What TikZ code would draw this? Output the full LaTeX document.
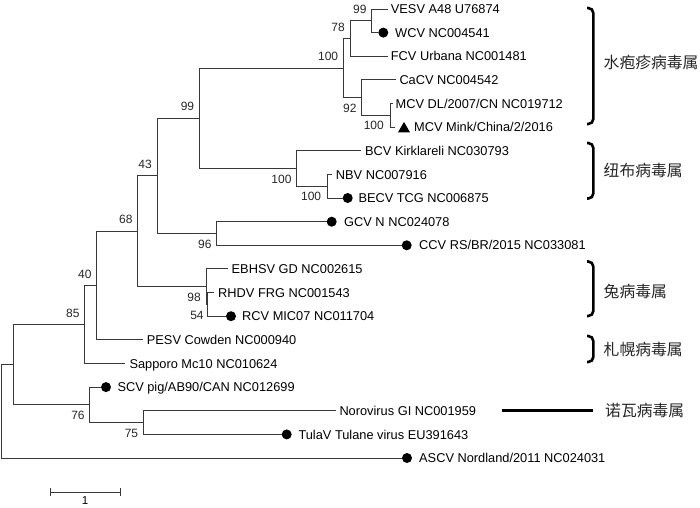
\documentclass[tikz,border=0pt]{standalone}
\usepackage{fontspec}
\setmainfont{Liberation Sans}
\newfontfamily\cjk{Noto Sans CJK SC}
\usetikzlibrary{shapes.geometric}
\begin{document}
\begin{tikzpicture}[x=1pt,y=-1pt,
  edge/.style={draw=black!78, line width=1pt},
  leaf/.style={font=\fontsize{12.8}{14}\selectfont, inner sep=0pt, anchor=base west},
  bs/.style={font=\fontsize{12}{14}\selectfont, inner sep=0pt, anchor=east, text=black!85},
  dot/.style={circle, fill=black, inner sep=0pt, minimum size=10pt},
  tri/.style={regular polygon, regular polygon sides=3, fill=black, inner sep=0pt, minimum size=14pt},
  genus/.style={font=\cjk\fontsize{15.8}{18}\selectfont, inner sep=0pt, anchor=west, text=black!85},
  brace/.style={line width=2.6pt, rounded corners=5pt},
  gbar/.style={line width=2.6pt}
]
\useasboundingbox (0,0) rectangle (700,507);

% internal nodes
\coordinate (root) at (1.5,411.3);
\coordinate (nP) at (13.3,364.65);
\coordinate (n85) at (84.7,324.5);
\coordinate (n76) at (89.3,404.8);
\coordinate (n75) at (143.3,422.55);
\coordinate (n40) at (96.7,285.55);
\coordinate (n68) at (137.7,231.3);
\coordinate (n43) at (157,175.9);
\coordinate (n99b) at (199.3,118.3);
\coordinate (n96) at (216.7,233.5);
\coordinate (n98) at (206,286.65);
\coordinate (n54) at (207.8,304.4);
\coordinate (n100v) at (343.3,68.1);
\coordinate (n78) at (350,38.55);
\coordinate (n99s) at (371.7,20.8);
\coordinate (n92) at (361.7,97.6);
\coordinate (n100m) at (390,115.35);
\coordinate (n100b) at (296.7,168.5);
\coordinate (n100n) at (327.3,186.2);

% leaf tips and markers
\coordinate (tVESV) at (387.5,9);
\node[dot] (dWCV) at (383.3,32.6) {};
\coordinate (tFCV) at (388,56.3);
\coordinate (tCaCV) at (396,79.9);
\coordinate (tMCVDL) at (393,103.5);
\coordinate (tMink) at (395,127.2);
\node[tri] (triMink) at (404,128.9) {};
\coordinate (tBCV) at (361,150.8);
\coordinate (tNBV) at (332,174.4);
\node[dot] (dBECV) at (347.7,198) {};
\node[dot] (dGCV) at (331.7,221.7) {};
\node[dot] (dCCV) at (406.7,245.3) {};
\coordinate (tEBHSV) at (228,268.9);
\coordinate (tRHDV) at (214,292.6);
\node[dot] (dRCV) at (231,316.2) {};
\coordinate (tPESV) at (143.3,339.8);
\coordinate (tSapp) at (125,363.5);
\node[dot] (dSCV) at (106,387.1) {};
\coordinate (tNoro) at (336,410.7);
\node[dot] (dTula) at (286.7,434.4) {};
\node[dot] (dASCV) at (407,458) {};

% leaf labels
\node[leaf] (lVESV) at (390.7,13.6) {VESV A48 U76874};
\node[leaf] (lWCV) at (395,37.2) {WCV NC004541};
\node[leaf] (lFCV) at (390.7,60.9) {FCV Urbana NC001481};
\node[leaf] (lCaCV) at (399.3,84.5) {CaCV NC004542};
\node[leaf] (lMCVDL) at (395.5,108.1) {MCV DL/2007/CN NC019712};
\node[leaf] (lMink) at (414,131.8) {MCV Mink/China/2/2016};
\node[leaf] (lBCV) at (365,155.4) {BCV Kirklareli NC030793};
\node[leaf] (lNBV) at (335.7,179) {NBV NC007916};
\node[leaf] (lBECV) at (358.3,202.6) {BECV TCG NC006875};
\node[leaf] (lGCV) at (344,226.3) {GCV N NC024078};
\node[leaf] (lCCV) at (419,249.9) {CCV RS/BR/2015 NC033081};
\node[leaf] (lEBHSV) at (231.5,273.5) {EBHSV GD NC002615};
\node[leaf] (lRHDV) at (218,297.2) {RHDV FRG NC001543};
\node[leaf] (lRCV) at (242,320.8) {RCV MIC07 NC011704};
\node[leaf] (lPESV) at (146.7,344.4) {PESV Cowden NC000940};
\node[leaf] (lSapp) at (129.3,368.1) {Sapporo Mc10 NC010624};
\node[leaf] (lSCV) at (117.3,391.7) {SCV pig/AB90/CAN NC012699};
\node[leaf] (lNoro) at (339.3,415.3) {Norovirus GI NC001959};
\node[leaf] (lTula) at (298.3,439) {TulaV Tulane virus EU391643};
\node[leaf] (lASCV) at (419,462.6) {ASCV Nordland/2011 NC024031};

% branches
\draw[edge] (root) |- (nP);
\draw[edge] (root) |- (dASCV.west);
\draw[edge] (nP) |- (n85);
\draw[edge] (nP) |- (n76);
\draw[edge] (n85) |- (n40);
\draw[edge] (n85) |- (tSapp);
\draw[edge] (n40) |- (n68);
\draw[edge] (n40) |- (tPESV);
\draw[edge] (n68) |- (n43);
\draw[edge] (n68) |- (n98);
\draw[edge] (n43) |- (n99b);
\draw[edge] (n43) |- (n96);
\draw[edge] (n99b) |- (n100v);
\draw[edge] (n99b) |- (n100b);
\draw[edge] (n100v) |- (n78);
\draw[edge] (n100v) |- (n92);
\draw[edge] (n78) |- (n99s);
\draw[edge] (n78) |- (tFCV);
\draw[edge] (n99s) |- (tVESV);
\draw[edge] (n99s) |- (dWCV.west);
\draw[edge] (n92) |- (tCaCV);
\draw[edge] (n92) |- (n100m);
\draw[edge] (n100m) |- (tMCVDL);
\draw[edge] (n100m) |- (tMink);
\draw[edge] (n100b) |- (tBCV);
\draw[edge] (n100b) |- (n100n);
\draw[edge] (n100n) |- (tNBV);
\draw[edge] (n100n) |- (dBECV.west);
\draw[edge] (n96) |- (dGCV.west);
\draw[edge] (n96) |- (dCCV.west);
\draw[edge] (n98) |- (tEBHSV);
\draw[edge] (n98) |- (n54);
\draw[edge] (n54) |- (tRHDV);
\draw[edge] (n54) |- (dRCV.west);
\draw[edge] (n76) |- (dSCV.west);
\draw[edge] (n76) |- (n75);
\draw[edge] (n75) |- (tNoro);
\draw[edge] (n75) |- (dTula.west);

% bootstrap values
\node[bs] (b99s) at ([shift={(-5,-11.5)}]n99s) {99};
\node[bs] (b78) at ([shift={(-5,-11.5)}]n78) {78};
\node[bs] (b100v) at ([shift={(-5,-11.5)}]n100v) {100};
\node[bs] (b99b) at ([shift={(-5,-11.5)}]n99b) {99};
\node[bs] (b43) at ([shift={(-5,-11.5)}]n43) {43};
\node[bs] (b68) at ([shift={(-5,-11.5)}]n68) {68};
\node[bs] (b40) at ([shift={(-5,-11.5)}]n40) {40};
\node[bs] (b85) at ([shift={(-5,-11.5)}]n85) {85};
\node[bs] (b92) at ([shift={(-5,10.5)}]n92) {92};
\node[bs] (b100m) at ([shift={(-6,10.5)}]n100m) {100};
\node[bs] (b100b) at ([shift={(-5,10.5)}]n100b) {100};
\node[bs] (b100n) at ([shift={(-6,10.5)}]n100n) {100};
\node[bs] (b96) at ([shift={(-5,10.5)}]n96) {96};
\node[bs] (b98) at ([shift={(-5,10.5)}]n98) {98};
\node[bs] (b54) at ([shift={(-4,11.5)}]n54) {54};
\node[bs] (b76) at ([shift={(-4.5,11)}]n76) {76};
\node[bs] (b75) at ([shift={(-5,10.8)}]n75) {75};

% genus brackets
\draw[brace] (587,8) -- (593.3,8) -- (593.3,124) -- (587,124);
\draw[brace] (587,143) -- (593.3,143) -- (593.3,198.5) -- (587,198.5);
\draw[brace] (587,261.5) -- (593.3,261.5) -- (593.3,316) -- (587,316);
\draw[brace] (587,336) -- (593.3,336) -- (593.3,362) -- (587,362);
\coordinate (gA) at (501.7,410.7);
\coordinate (gB) at (593.3,410.7);
\draw[gbar] (gA) -- (gB);

\node[genus] (g1) at (603.5,62) {水疱疹病毒属};
\node[genus] (g2) at (603.5,170.5) {纽布病毒属};
\node[genus] (g3) at (603.5,291) {兔病毒属};
\node[genus] (g4) at (603.5,349) {札幌病毒属};
\node[genus] (g5) at (605,410.7) {诺瓦病毒属};

% scale bar
\coordinate (sA) at (50,492);
\coordinate (sB) at (120,492);
\draw[edge] (sA) -- (sB);
\draw[edge] ([yshift=-4]sA) -- ([yshift=4]sA);
\draw[edge] ([yshift=-4]sB) -- ([yshift=4]sB);
\node[font=\fontsize{11.5}{13}\selectfont, inner sep=0pt] (sl) at (85,500.8) {1};
\end{tikzpicture}
\end{document}
